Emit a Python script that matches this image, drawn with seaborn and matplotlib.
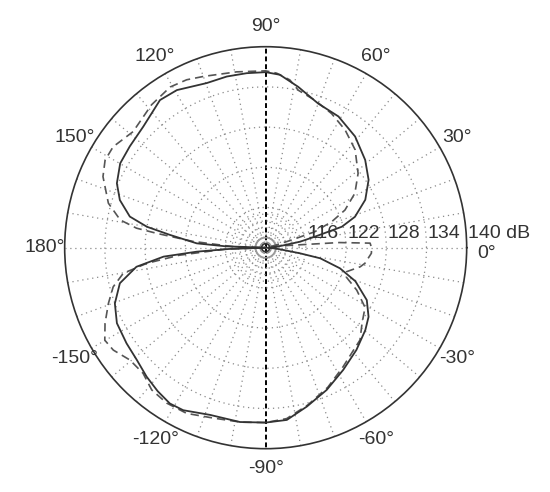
import numpy as np
import matplotlib
matplotlib.use("Agg")
import matplotlib.pyplot as plt
import seaborn as sns

# Directivity data (angle in degrees, level in dB)
solid_deg = [-180, -178, -176.7, -175, -171.6, -166.3, -159.7, -153.1, -145.5, -139,
             -132.7, -127, -121.6, -116.9, -108.4, -98.4, -90, -83, -75.5, -66.8,
             -57.6, -48.4, -39.6, -33.9, -27.4, -20.5, -15.5, -11, -9.3, -6,
             -3, 0, 3, 6, 8, 9.9, 12.6, 15.4, 19.1, 25.7,
             33.4, 41.4, 51.2, 61, 70, 78.6, 85.3, 90, 96.2, 102.8,
             109.7, 119.4, 125.6, 135.3, 143.3, 149.9, 156.6, 161.9, 167.1, 170,
             172.4, 176.4, 178, 180]
solid_db = [110.0, 115.5, 120.3, 125.3, 129.5, 132.4, 134.0, 134.9, 135.2, 135.5,
            136.2, 136.8, 137.3, 137.2, 136.3, 136.3, 136.1, 135.9, 134.5, 133.1,
            131.6, 130.4, 129.3, 128.5, 127.0, 124.3, 121.5, 118.3, 115.2, 112.0,
            110.8, 110.3, 110.8, 112.0, 113.0, 115.2, 117.5, 121.8, 124.1, 126.5,
            128.4, 129.8, 131.3, 132.4, 132.9, 134.5, 135.9, 136.2, 136.2, 136.2,
            136.1, 137.0, 137.1, 135.7, 135.3, 135.1, 134.2, 132.9, 130.8, 128.0,
            124.4, 120.3, 116.0, 110.0]

dashed_deg = [-180, -178, -175, -172.5, -169.8, -165.6, -160.5, -154.8, -150.1, -146.1,
              -140.4, -134.3, -128.7, -122.5, -115.5, -107, -98, -90, -83, -75,
              -66, -57, -48, -44.4, -38.2, -31, -25, -20, -16.5, -11.4,
              -8.9, -3, 0, 2.5, 4, 6, 8, 12, 14.5, 16.5,
              18, 21.5, 25.4, 31.4, 38.8, 47.6, 56, 63.8, 71.5, 78.3,
              81.8, 86.4, 90, 99.4, 110, 115.2, 120.7, 128.6, 138.8, 146.5,
              151.4, 156.4, 164.2, 169.2, 171.4, 172.5, 175, 178, 180]
dashed_db = [110.0, 116.0, 123.0, 127.9, 131.6, 133.5, 134.9, 136.5, 137.7, 137.4,
             136.3, 136.2, 137.2, 137.5, 137.4, 136.6, 136.3, 136.1, 135.7, 134.3,
             132.8, 131.2, 130.0, 129.7, 128.3, 127.3, 125.0, 122.8, 122.6, 124.4,
             125.0, 125.8, 125.8, 125.6, 121.0, 113.0, 110.5, 110.5, 111.5, 114.0,
             117.7, 120.6, 123.1, 125.6, 127.7, 129.8, 131.2, 132.3, 133.2, 134.0,
             135.3, 136.1, 136.4, 136.6, 137.2, 137.7, 137.9, 137.3, 136.3, 137.3,
             137.3, 136.5, 134.4, 132.1, 129.5, 126.4, 121.0, 115.0, 110.0]

r_min, r_max = 110, 140
ring_levels = [116, 122, 128, 134, 140]
inner_rings = [112, 113, 114, 115]
angle_labels = [0, 30, 60, 90, 120, 150, 180, -150, -120, -90, -60, -30]

sns.set_theme(style="white")
plt.rcParams["font.family"] = ["Liberation Sans", "DejaVu Sans"]

fig = plt.figure(figsize=(5.5, 4.92), dpi=100)
ax = fig.add_axes([0.1176, 0.088, 0.7309, 0.8171], projection="polar")
ax.set_ylim(r_min, r_max)
ax.set_facecolor("white")

# grid: rings and 10 degree spokes
ax.set_yticks(inner_rings + ring_levels[:-1])
ax.set_yticklabels([])
ax.set_xticks(np.deg2rad(np.arange(0, 360, 10)))
ax.set_xticklabels([])
ax.tick_params(length=0)
ax.grid(True, color="#8a8a8a", linestyle=(0, (1, 3)), linewidth=0.9)
for ang, gl in zip(np.arange(0, 360, 10), ax.xaxis.get_gridlines()):
    if ang in (90, 270):
        gl.set_color("black")
        gl.set_linestyle((0, (2.5, 1.5)))
        gl.set_linewidth(1.4)

ax.spines["polar"].set_color("#333333")
ax.spines["polar"].set_linewidth(1.2)

# small circles at the origin
ring_t = np.linspace(0, 2 * np.pi, 200)
ax.plot(ring_t, np.full_like(ring_t, 111.5), color="#999999", lw=1.2)
ax.plot(ring_t, np.full_like(ring_t, 110.6), color="#333333", lw=1.2)

# curves
sns.lineplot(x=np.deg2rad(dashed_deg), y=dashed_db, ax=ax, sort=False, estimator=None,
             color="#555555", lw=1.2, linestyle=(0, (5, 3)))
sns.lineplot(x=np.deg2rad(solid_deg), y=solid_db, ax=ax, sort=False, estimator=None,
             color="#333333", lw=1.3)
for ln in ax.get_lines():
    ln.set_solid_joinstyle("round")

# angle labels (0 deg nudged down a little so it clears "140 dB")
for a in angle_labels:
    dy = -4 if a == 0 else 0
    ax.annotate(f"{a}\u00b0", xy=(np.deg2rad(a), r_max + 3.0), xytext=(0, dy),
                textcoords="offset points", ha="center", va="center",
                fontsize=14, color="#333333", annotation_clip=False)

# radial labels
for lv in ring_levels:
    txt = f"{lv} dB" if lv == r_max else f"{lv}"
    ax.annotate(txt, xy=(0, lv), xytext=(1, 7), textcoords="offset points",
                ha="left", va="baseline", fontsize=14, color="#333333",
                annotation_clip=False)

fig.savefig("out.png", dpi=100, facecolor="white")
